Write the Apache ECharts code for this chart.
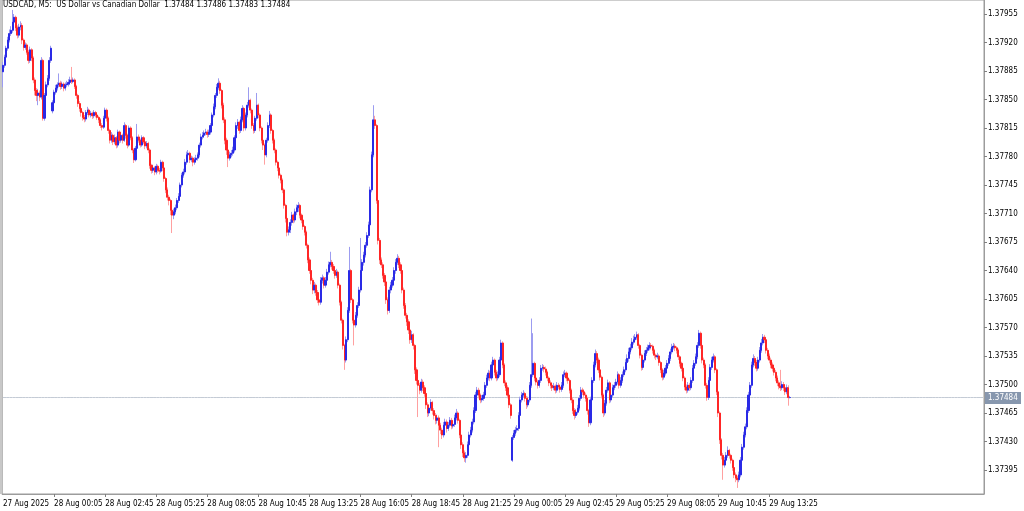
<!DOCTYPE html>
<html>
<head>
<meta charset="utf-8">
<script src="https://cdn.jsdelivr.net/npm/echarts@6/dist/echarts.min.js"></script>
<style>
html,body{margin:0;padding:0;background:#ffffff;}
#chart{width:1024px;height:511px;}
</style>
</head>
<body>
<div id="chart"></div>
<script>
// ---- Header ----
const symbolText = 'USDCAD, M5:';
const descText = 'US Dollar vs Canadian Dollar';

// ---- Time axis labels (one every 32 five-minute bars) ----
const timeLabels = ['27 Aug 2025','28 Aug 00:05','28 Aug 02:45','28 Aug 05:25','28 Aug 08:05','28 Aug 10:45',
  '28 Aug 13:25','28 Aug 16:05','28 Aug 18:45','28 Aug 21:25','29 Aug 00:05','29 Aug 02:45',
  '29 Aug 05:25','29 Aug 08:05','29 Aug 10:45','29 Aug 13:25'];
const barsPerLabel = 32;
const totalSlots = 615; // bar slots across the chart incl. empty right margin

// ---- Price axis tick labels ----
const priceTicks = [1.37395,1.37430,1.37465,1.37500,1.37535,1.37570,1.37605,1.37640,1.37675,
  1.37710,1.37745,1.37780,1.37815,1.37850,1.37885,1.37920,1.37955];
const priceMin = 1.3736553, priceMax = 1.3797219;

// ---- OHLC data (M5 bars) ----
const opens = [
1.37884,1.37892,1.37902,1.37913,1.37923,1.37931,1.37935,1.37945,1.37951,1.37938,
1.37929,1.37939,1.37941,1.37923,1.37914,1.37917,1.37908,1.37898,1.37911,1.37901,
1.37874,1.37861,1.37855,1.37858,1.37853,1.37898,1.37827,1.37855,1.37868,1.37876,
1.37898,1.37836,1.37846,1.37859,1.37864,1.37868,1.37870,1.37866,1.37869,1.37864,
1.37868,1.37869,1.37871,1.37874,1.37872,1.37874,1.37866,1.37855,1.37845,1.37839,
1.37834,1.37828,1.37826,1.37834,1.37837,1.37831,1.37833,1.37830,1.37834,1.37831,
1.37828,1.37825,1.37818,1.37816,1.37827,1.37837,1.37827,1.37812,1.37800,1.37806,
1.37798,1.37803,1.37794,1.37810,1.37800,1.37806,1.37800,1.37818,1.37806,1.37794,
1.37815,1.37803,1.37788,1.37776,1.37790,1.37804,1.37800,1.37794,1.37803,1.37798,
1.37793,1.37796,1.37788,1.37769,1.37763,1.37766,1.37761,1.37768,1.37763,1.37762,
1.37773,1.37766,1.37753,1.37739,1.37730,1.37726,1.37714,1.37708,1.37712,1.37717,
1.37726,1.37731,1.37745,1.37757,1.37761,1.37773,1.37782,1.37784,1.37776,1.37778,
1.37773,1.37776,1.37778,1.37782,1.37794,1.37804,1.37806,1.37809,1.37810,1.37807,
1.37810,1.37818,1.37831,1.37841,1.37855,1.37865,1.37870,1.37861,1.37843,1.37825,
1.37800,1.37788,1.37778,1.37782,1.37784,1.37788,1.37803,1.37818,1.37822,1.37812,
1.37825,1.37839,1.37815,1.37831,1.37843,1.37849,1.37837,1.37818,1.37812,1.37827,
1.37843,1.37831,1.37815,1.37800,1.37794,1.37782,1.37800,1.37818,1.37831,1.37812,
1.37800,1.37788,1.37773,1.37766,1.37757,1.37751,1.37739,1.37720,1.37704,1.37687,
1.37690,1.37699,1.37708,1.37702,1.37712,1.37717,1.37720,1.37708,1.37702,1.37694,
1.37687,1.37671,1.37653,1.37640,1.37628,1.37616,1.37622,1.37613,1.37604,1.37601,
1.37628,1.37631,1.37622,1.37628,1.37638,1.37647,1.37650,1.37645,1.37640,1.37634,
1.37638,1.37622,1.37601,1.37579,1.37548,1.37530,1.37555,1.37591,1.37640,1.37604,
1.37579,1.37573,1.37585,1.37597,1.37616,1.37640,1.37650,1.37659,1.37671,1.37683,
1.37696,1.37739,1.37782,1.37825,1.37818,1.37726,1.37677,1.37653,1.37647,1.37634,
1.37626,1.37604,1.37591,1.37616,1.37622,1.37628,1.37640,1.37650,1.37655,1.37647,
1.37640,1.37616,1.37597,1.37585,1.37577,1.37567,1.37555,1.37561,1.37548,1.37518,
1.37505,1.37499,1.37493,1.37503,1.37496,1.37489,1.37475,1.37465,1.37471,1.37478,
1.37468,1.37462,1.37456,1.37459,1.37450,1.37444,1.37438,1.37450,1.37454,1.37446,
1.37450,1.37456,1.37449,1.37451,1.37459,1.37465,1.37456,1.37438,1.37426,1.37416,
1.37410,1.37413,1.37426,1.37438,1.37444,1.37454,1.37468,1.37487,1.37493,1.37487,
1.37481,1.37483,1.37487,1.37499,1.37508,1.37514,1.37508,1.37524,1.37530,1.37515,
1.37508,1.37512,1.37530,1.37551,1.37524,1.37502,1.37496,1.37487,1.37475,1.37407,
1.37435,1.37440,1.37444,1.37446,1.37462,1.37481,1.37487,1.37489,1.37483,1.37475,
1.37481,1.37499,1.37512,1.37526,1.37508,1.37503,1.37499,1.37505,1.37520,1.37521,
1.37519,1.37515,1.37508,1.37502,1.37499,1.37496,1.37498,1.37493,1.37499,1.37497,
1.37494,1.37499,1.37512,1.37514,1.37508,1.37505,1.37493,1.37481,1.37468,1.37462,
1.37466,1.37471,1.37483,1.37493,1.37491,1.37487,1.37483,1.37468,1.37453,1.37481,
1.37505,1.37524,1.37538,1.37530,1.37518,1.37509,1.37487,1.37465,1.37477,1.37493,
1.37502,1.37481,1.37487,1.37496,1.37499,1.37503,1.37512,1.37499,1.37505,1.37512,
1.37518,1.37527,1.37532,1.37540,1.37545,1.37552,1.37555,1.37558,1.37561,1.37548,
1.37536,1.37521,1.37530,1.37538,1.37542,1.37545,1.37548,1.37547,1.37542,1.37536,
1.37534,1.37535,1.37527,1.37518,1.37509,1.37514,1.37520,1.37526,1.37532,1.37540,
1.37546,1.37547,1.37545,1.37542,1.37534,1.37526,1.37520,1.37508,1.37497,1.37493,
1.37499,1.37496,1.37505,1.37520,1.37526,1.37534,1.37548,1.37563,1.37548,1.37530,
1.37524,1.37499,1.37484,1.37505,1.37521,1.37530,1.37534,1.37518,1.37491,1.37465,
1.37432,1.37413,1.37401,1.37407,1.37413,1.37419,1.37413,1.37407,1.37398,1.37389,
1.37385,1.37383,1.37389,1.37407,1.37423,1.37438,1.37448,1.37468,1.37487,1.37499,
1.37524,1.37532,1.37527,1.37520,1.37530,1.37542,1.37551,1.37558,1.37555,1.37542,
1.37535,1.37530,1.37524,1.37520,1.37515,1.37508,1.37502,1.37498,1.37496,1.37500,
1.37496,1.37491,1.37496,1.37484];

const closes = [
1.37892,1.37902,1.37913,1.37923,1.37931,1.37935,1.37945,1.37951,1.37938,1.37929,
1.37939,1.37941,1.37923,1.37914,1.37917,1.37908,1.37898,1.37911,1.37901,1.37874,
1.37861,1.37855,1.37858,1.37853,1.37898,1.37827,1.37855,1.37868,1.37876,1.37898,
1.37913,1.37846,1.37859,1.37864,1.37868,1.37870,1.37866,1.37869,1.37864,1.37868,
1.37869,1.37871,1.37874,1.37872,1.37874,1.37866,1.37855,1.37845,1.37839,1.37834,
1.37828,1.37826,1.37834,1.37837,1.37831,1.37833,1.37830,1.37834,1.37831,1.37828,
1.37825,1.37818,1.37816,1.37827,1.37837,1.37827,1.37812,1.37800,1.37806,1.37798,
1.37803,1.37794,1.37810,1.37800,1.37806,1.37800,1.37818,1.37806,1.37794,1.37815,
1.37803,1.37788,1.37776,1.37790,1.37804,1.37800,1.37794,1.37803,1.37798,1.37793,
1.37796,1.37788,1.37769,1.37763,1.37766,1.37761,1.37768,1.37763,1.37762,1.37773,
1.37766,1.37753,1.37739,1.37730,1.37726,1.37714,1.37708,1.37712,1.37717,1.37726,
1.37731,1.37745,1.37757,1.37761,1.37773,1.37782,1.37784,1.37776,1.37778,1.37773,
1.37776,1.37778,1.37782,1.37794,1.37804,1.37806,1.37809,1.37810,1.37807,1.37810,
1.37818,1.37831,1.37841,1.37855,1.37865,1.37870,1.37861,1.37843,1.37825,1.37800,
1.37788,1.37778,1.37782,1.37784,1.37788,1.37803,1.37818,1.37822,1.37812,1.37825,
1.37839,1.37815,1.37831,1.37843,1.37849,1.37837,1.37818,1.37812,1.37827,1.37843,
1.37831,1.37815,1.37800,1.37794,1.37782,1.37800,1.37818,1.37831,1.37812,1.37800,
1.37788,1.37773,1.37766,1.37757,1.37751,1.37739,1.37720,1.37704,1.37687,1.37690,
1.37699,1.37708,1.37702,1.37712,1.37717,1.37720,1.37708,1.37702,1.37694,1.37687,
1.37671,1.37653,1.37640,1.37628,1.37616,1.37622,1.37613,1.37604,1.37601,1.37628,
1.37631,1.37622,1.37628,1.37638,1.37647,1.37650,1.37645,1.37640,1.37634,1.37638,
1.37622,1.37601,1.37579,1.37548,1.37530,1.37555,1.37591,1.37640,1.37604,1.37579,
1.37573,1.37585,1.37597,1.37616,1.37640,1.37650,1.37659,1.37671,1.37683,1.37696,
1.37739,1.37782,1.37825,1.37818,1.37726,1.37677,1.37653,1.37647,1.37634,1.37626,
1.37604,1.37591,1.37616,1.37622,1.37628,1.37640,1.37650,1.37655,1.37647,1.37640,
1.37616,1.37597,1.37585,1.37577,1.37567,1.37555,1.37561,1.37548,1.37518,1.37505,
1.37499,1.37493,1.37503,1.37496,1.37489,1.37475,1.37465,1.37471,1.37478,1.37468,
1.37462,1.37456,1.37459,1.37450,1.37444,1.37438,1.37450,1.37454,1.37446,1.37450,
1.37456,1.37449,1.37451,1.37459,1.37465,1.37456,1.37438,1.37426,1.37416,1.37410,
1.37413,1.37426,1.37438,1.37444,1.37454,1.37468,1.37487,1.37493,1.37487,1.37481,
1.37483,1.37487,1.37499,1.37508,1.37514,1.37508,1.37524,1.37530,1.37515,1.37508,
1.37512,1.37530,1.37551,1.37524,1.37502,1.37496,1.37487,1.37475,1.37462,1.37435,
1.37440,1.37444,1.37446,1.37462,1.37481,1.37487,1.37489,1.37483,1.37475,1.37481,
1.37499,1.37512,1.37526,1.37508,1.37503,1.37499,1.37505,1.37520,1.37521,1.37519,
1.37515,1.37508,1.37502,1.37499,1.37496,1.37498,1.37493,1.37499,1.37497,1.37494,
1.37499,1.37512,1.37514,1.37508,1.37505,1.37493,1.37481,1.37468,1.37462,1.37466,
1.37471,1.37483,1.37493,1.37491,1.37487,1.37483,1.37468,1.37453,1.37481,1.37505,
1.37524,1.37538,1.37530,1.37518,1.37509,1.37487,1.37465,1.37477,1.37493,1.37502,
1.37481,1.37487,1.37496,1.37499,1.37503,1.37512,1.37499,1.37505,1.37512,1.37518,
1.37527,1.37532,1.37540,1.37545,1.37552,1.37555,1.37558,1.37561,1.37548,1.37536,
1.37521,1.37530,1.37538,1.37542,1.37545,1.37548,1.37547,1.37542,1.37536,1.37534,
1.37535,1.37527,1.37518,1.37509,1.37514,1.37520,1.37526,1.37532,1.37540,1.37546,
1.37547,1.37545,1.37542,1.37534,1.37526,1.37520,1.37508,1.37497,1.37493,1.37499,
1.37496,1.37505,1.37520,1.37526,1.37534,1.37548,1.37563,1.37548,1.37530,1.37524,
1.37499,1.37484,1.37505,1.37521,1.37530,1.37534,1.37518,1.37491,1.37465,1.37432,
1.37413,1.37401,1.37407,1.37413,1.37419,1.37413,1.37407,1.37398,1.37389,1.37385,
1.37383,1.37389,1.37407,1.37423,1.37438,1.37448,1.37468,1.37487,1.37499,1.37524,
1.37532,1.37527,1.37520,1.37530,1.37542,1.37551,1.37558,1.37555,1.37542,1.37535,
1.37530,1.37524,1.37520,1.37515,1.37508,1.37502,1.37498,1.37496,1.37500,1.37496,
1.37491,1.37496,1.37484,1.37484];

const highs = [
1.37896,1.37905,1.37916,1.37927,1.37936,1.37940,1.37960,1.37955,1.37953,1.37941,
1.37943,1.37946,1.37944,1.37925,1.37920,1.37919,1.37911,1.37915,1.37913,1.37903,
1.37877,1.37864,1.37863,1.37861,1.37902,1.37900,1.37858,1.37872,1.37880,1.37902,
1.37916,1.37849,1.37862,1.37868,1.37871,1.37882,1.37873,1.37872,1.37871,1.37871,
1.37873,1.37875,1.37878,1.37890,1.37877,1.37876,1.37868,1.37857,1.37848,1.37841,
1.37836,1.37831,1.37837,1.37841,1.37839,1.37836,1.37835,1.37837,1.37836,1.37833,
1.37830,1.37827,1.37821,1.37830,1.37840,1.37839,1.37829,1.37814,1.37810,1.37808,
1.37807,1.37805,1.37813,1.37812,1.37809,1.37808,1.37822,1.37820,1.37808,1.37818,
1.37817,1.37805,1.37790,1.37793,1.37820,1.37807,1.37802,1.37806,1.37805,1.37800,
1.37799,1.37798,1.37790,1.37771,1.37770,1.37768,1.37771,1.37770,1.37766,1.37776,
1.37775,1.37768,1.37755,1.37742,1.37733,1.37728,1.37716,1.37716,1.37721,1.37729,
1.37735,1.37748,1.37760,1.37765,1.37777,1.37786,1.37788,1.37786,1.37781,1.37780,
1.37779,1.37782,1.37785,1.37797,1.37808,1.37810,1.37812,1.37814,1.37813,1.37813,
1.37821,1.37834,1.37845,1.37858,1.37869,1.37876,1.37873,1.37863,1.37846,1.37828,
1.37803,1.37791,1.37786,1.37788,1.37792,1.37806,1.37822,1.37826,1.37824,1.37829,
1.37843,1.37841,1.37834,1.37847,1.37865,1.37851,1.37839,1.37821,1.37830,1.37858,
1.37845,1.37833,1.37817,1.37803,1.37796,1.37803,1.37822,1.37836,1.37833,1.37814,
1.37802,1.37790,1.37775,1.37768,1.37759,1.37753,1.37741,1.37722,1.37706,1.37694,
1.37703,1.37712,1.37710,1.37716,1.37721,1.37724,1.37722,1.37710,1.37704,1.37696,
1.37689,1.37673,1.37656,1.37642,1.37631,1.37626,1.37624,1.37616,1.37607,1.37632,
1.37635,1.37633,1.37632,1.37642,1.37651,1.37663,1.37653,1.37648,1.37642,1.37642,
1.37640,1.37624,1.37603,1.37581,1.37550,1.37559,1.37595,1.37669,1.37642,1.37606,
1.37582,1.37589,1.37601,1.37620,1.37680,1.37654,1.37663,1.37675,1.37687,1.37700,
1.37743,1.37786,1.37843,1.37830,1.37820,1.37728,1.37680,1.37656,1.37650,1.37637,
1.37628,1.37607,1.37620,1.37626,1.37632,1.37644,1.37654,1.37660,1.37658,1.37650,
1.37642,1.37619,1.37600,1.37588,1.37580,1.37570,1.37566,1.37563,1.37550,1.37521,
1.37508,1.37502,1.37507,1.37506,1.37499,1.37491,1.37478,1.37475,1.37482,1.37480,
1.37471,1.37465,1.37463,1.37462,1.37453,1.37447,1.37454,1.37458,1.37457,1.37454,
1.37460,1.37459,1.37455,1.37463,1.37470,1.37467,1.37458,1.37441,1.37429,1.37419,
1.37417,1.37430,1.37442,1.37448,1.37458,1.37472,1.37491,1.37497,1.37496,1.37489,
1.37487,1.37491,1.37503,1.37512,1.37518,1.37517,1.37528,1.37534,1.37532,1.37518,
1.37516,1.37534,1.37555,1.37553,1.37526,1.37505,1.37499,1.37490,1.37477,1.37438,
1.37444,1.37448,1.37450,1.37466,1.37485,1.37491,1.37493,1.37491,1.37486,1.37485,
1.37503,1.37581,1.37563,1.37528,1.37511,1.37506,1.37509,1.37524,1.37525,1.37524,
1.37522,1.37517,1.37510,1.37505,1.37502,1.37502,1.37500,1.37503,1.37502,1.37500,
1.37503,1.37516,1.37518,1.37516,1.37511,1.37507,1.37495,1.37484,1.37471,1.37470,
1.37475,1.37487,1.37497,1.37496,1.37494,1.37490,1.37485,1.37470,1.37485,1.37509,
1.37528,1.37543,1.37541,1.37533,1.37521,1.37511,1.37489,1.37481,1.37497,1.37506,
1.37504,1.37491,1.37500,1.37503,1.37507,1.37516,1.37514,1.37509,1.37516,1.37522,
1.37531,1.37537,1.37545,1.37550,1.37557,1.37560,1.37562,1.37565,1.37563,1.37550,
1.37538,1.37534,1.37542,1.37546,1.37549,1.37552,1.37551,1.37549,1.37544,1.37538,
1.37539,1.37537,1.37529,1.37520,1.37518,1.37524,1.37530,1.37536,1.37544,1.37550,
1.37551,1.37550,1.37547,1.37544,1.37536,1.37528,1.37522,1.37510,1.37500,1.37503,
1.37502,1.37509,1.37524,1.37530,1.37538,1.37552,1.37567,1.37565,1.37550,1.37533,
1.37526,1.37502,1.37509,1.37525,1.37534,1.37538,1.37536,1.37520,1.37493,1.37467,
1.37434,1.37416,1.37411,1.37417,1.37424,1.37421,1.37415,1.37409,1.37400,1.37392,
1.37388,1.37393,1.37411,1.37427,1.37442,1.37452,1.37472,1.37491,1.37503,1.37528,
1.37537,1.37535,1.37530,1.37534,1.37546,1.37556,1.37562,1.37561,1.37557,1.37545,
1.37538,1.37533,1.37527,1.37523,1.37518,1.37511,1.37505,1.37518,1.37504,1.37503,
1.37498,1.37500,1.37499,1.37486];

const lows = [
1.37865,1.37889,1.37899,1.37910,1.37920,1.37928,1.37932,1.37941,1.37934,1.37925,
1.37926,1.37935,1.37918,1.37910,1.37911,1.37905,1.37894,1.37895,1.37897,1.37870,
1.37855,1.37848,1.37843,1.37848,1.37850,1.37824,1.37824,1.37852,1.37865,1.37873,
1.37895,1.37833,1.37843,1.37856,1.37861,1.37865,1.37862,1.37863,1.37860,1.37861,
1.37865,1.37866,1.37868,1.37869,1.37870,1.37863,1.37851,1.37841,1.37835,1.37829,
1.37824,1.37822,1.37823,1.37831,1.37828,1.37828,1.37826,1.37827,1.37828,1.37825,
1.37821,1.37815,1.37812,1.37814,1.37825,1.37823,1.37808,1.37796,1.37797,1.37794,
1.37795,1.37790,1.37791,1.37796,1.37797,1.37796,1.37798,1.37802,1.37790,1.37792,
1.37800,1.37784,1.37772,1.37774,1.37788,1.37797,1.37791,1.37792,1.37795,1.37789,
1.37790,1.37784,1.37765,1.37759,1.37760,1.37757,1.37758,1.37760,1.37758,1.37760,
1.37762,1.37749,1.37735,1.37726,1.37720,1.37708,1.37686,1.37703,1.37709,1.37714,
1.37723,1.37729,1.37742,1.37754,1.37758,1.37770,1.37779,1.37772,1.37773,1.37768,
1.37770,1.37773,1.37775,1.37779,1.37791,1.37801,1.37803,1.37806,1.37803,1.37804,
1.37807,1.37815,1.37828,1.37838,1.37852,1.37862,1.37857,1.37839,1.37821,1.37795,
1.37782,1.37767,1.37775,1.37779,1.37781,1.37785,1.37800,1.37814,1.37808,1.37809,
1.37822,1.37811,1.37812,1.37828,1.37840,1.37833,1.37814,1.37808,1.37809,1.37824,
1.37827,1.37811,1.37796,1.37788,1.37770,1.37779,1.37797,1.37815,1.37808,1.37796,
1.37784,1.37769,1.37762,1.37753,1.37747,1.37735,1.37716,1.37699,1.37682,1.37683,
1.37686,1.37695,1.37698,1.37699,1.37708,1.37712,1.37704,1.37698,1.37690,1.37683,
1.37667,1.37649,1.37636,1.37623,1.37611,1.37612,1.37609,1.37600,1.37597,1.37598,
1.37624,1.37618,1.37619,1.37625,1.37635,1.37644,1.37641,1.37636,1.37630,1.37631,
1.37618,1.37597,1.37575,1.37543,1.37518,1.37527,1.37552,1.37588,1.37600,1.37575,
1.37548,1.37570,1.37582,1.37594,1.37613,1.37636,1.37646,1.37656,1.37668,1.37680,
1.37693,1.37736,1.37779,1.37814,1.37722,1.37672,1.37648,1.37643,1.37630,1.37621,
1.37599,1.37586,1.37588,1.37612,1.37619,1.37625,1.37636,1.37647,1.37643,1.37636,
1.37612,1.37593,1.37581,1.37572,1.37562,1.37550,1.37551,1.37543,1.37513,1.37500,
1.37460,1.37488,1.37490,1.37492,1.37485,1.37470,1.37460,1.37461,1.37468,1.37463,
1.37457,1.37451,1.37452,1.37423,1.37439,1.37433,1.37435,1.37446,1.37441,1.37443,
1.37447,1.37445,1.37446,1.37448,1.37456,1.37452,1.37434,1.37421,1.37411,1.37405,
1.37404,1.37410,1.37423,1.37435,1.37441,1.37451,1.37465,1.37483,1.37483,1.37477,
1.37478,1.37480,1.37484,1.37496,1.37505,1.37504,1.37505,1.37521,1.37511,1.37504,
1.37505,1.37509,1.37527,1.37520,1.37498,1.37492,1.37483,1.37471,1.37458,1.37405,
1.37432,1.37437,1.37441,1.37443,1.37459,1.37478,1.37484,1.37479,1.37470,1.37472,
1.37478,1.37496,1.37509,1.37504,1.37499,1.37495,1.37496,1.37502,1.37517,1.37515,
1.37511,1.37504,1.37498,1.37495,1.37492,1.37493,1.37489,1.37490,1.37494,1.37490,
1.37491,1.37496,1.37509,1.37504,1.37501,1.37489,1.37477,1.37464,1.37457,1.37459,
1.37463,1.37468,1.37480,1.37487,1.37483,1.37479,1.37463,1.37448,1.37450,1.37478,
1.37502,1.37521,1.37526,1.37514,1.37505,1.37483,1.37460,1.37462,1.37474,1.37490,
1.37477,1.37478,1.37484,1.37493,1.37496,1.37500,1.37495,1.37496,1.37502,1.37509,
1.37515,1.37524,1.37528,1.37537,1.37542,1.37549,1.37552,1.37555,1.37544,1.37532,
1.37517,1.37518,1.37527,1.37535,1.37539,1.37542,1.37543,1.37538,1.37532,1.37530,
1.37531,1.37523,1.37514,1.37505,1.37506,1.37511,1.37517,1.37523,1.37529,1.37537,
1.37543,1.37541,1.37538,1.37530,1.37522,1.37516,1.37504,1.37493,1.37489,1.37490,
1.37492,1.37493,1.37502,1.37517,1.37523,1.37531,1.37545,1.37544,1.37526,1.37520,
1.37495,1.37480,1.37481,1.37502,1.37518,1.37527,1.37514,1.37487,1.37460,1.37427,
1.37408,1.37383,1.37398,1.37404,1.37410,1.37409,1.37403,1.37394,1.37385,1.37380,
1.37373,1.37380,1.37386,1.37404,1.37420,1.37435,1.37445,1.37465,1.37484,1.37496,
1.37521,1.37523,1.37516,1.37517,1.37527,1.37539,1.37548,1.37551,1.37538,1.37531,
1.37526,1.37520,1.37516,1.37511,1.37504,1.37498,1.37494,1.37492,1.37493,1.37492,
1.37487,1.37488,1.37474,1.37483];

if (opens.length !== closes.length || highs.length !== closes.length || lows.length !== closes.length) {
  throw new Error('length mismatch ' + opens.length + ' ' + closes.length + ' ' + highs.length + ' ' + lows.length);
}

// ---- Build chart ----
const FONT = "'DejaVu Sans Condensed','DejaVu Sans','Liberation Sans',sans-serif";
const fmt = v => v.toFixed(5);
const last = closes.length - 1;
const lastPrice = closes[last];
const categories = Array.from({length: totalSlots}, (_, i) => String(i));
const wickData = closes.map((c, i) => [opens[i], c, lows[i], highs[i]]);
const bodyData = closes.map((c, i) => [opens[i], c, Math.min(opens[i], c), Math.max(opens[i], c)]);
const priceLineData = categories.map(() => lastPrice);
const isLabelSlot = i => i % barsPerLabel === 0 && (i / barsPerLabel) < timeLabels.length;

const chart = echarts.init(document.getElementById('chart'), null, {renderer: 'canvas'});
chart.setOption({
  animation: false,
  backgroundColor: '#ffffff',
  title: {
    text: symbolText + '  ' + descText + '  ' + fmt(opens[last]) + ' ' + fmt(highs[last]) + ' ' + fmt(lows[last]) + ' ' + fmt(closes[last]),
    left: 3, top: 1, padding: 0,
    textStyle: {fontSize: 8, fontWeight: 'normal', color: '#000000', fontFamily: FONT}
  },
  grid: {left: 0, right: 40, top: 0, bottom: 17, show: true, borderColor: '#9c9c9c', borderWidth: 1, backgroundColor: 'transparent'},
  xAxis: {
    type: 'category', data: categories, boundaryGap: true,
    axisLine: {show: true, lineStyle: {color: '#9c9c9c', width: 1}},
    axisTick: {show: true, alignWithLabel: true, length: 3, interval: (i) => isLabelSlot(i) && i > 0, lineStyle: {color: '#808080'}},
    axisLabel: {show: true, interval: (i) => isLabelSlot(i), formatter: (v, i) => timeLabels[i / barsPerLabel] || '',
      align: 'left', margin: 6, fontSize: 8, color: '#000000', fontFamily: FONT},
    splitLine: {show: false}
  },
  yAxis: {
    type: 'value', position: 'right', min: priceMin, max: priceMax,
    axisLine: {show: true, lineStyle: {color: '#9c9c9c', width: 1}},
    axisTick: {show: true, customValues: priceTicks, length: 3, lineStyle: {color: '#808080'}},
    axisLabel: {show: true, customValues: priceTicks, formatter: v => fmt(v), margin: 4, fontSize: 8, color: '#000000', fontFamily: FONT},
    splitLine: {show: false}
  },
  series: [
    {
      name: 'priceLine', type: 'line', data: priceLineData, symbol: 'none', silent: true, z: 1,
      lineStyle: {color: '#c4cbd5', width: 1, type: 'solid'}
    },
    {
      name: 'wick', type: 'candlestick', data: wickData, barWidth: 1, silent: true, z: 2,
      itemStyle: {color: '#9c9cf0', color0: '#ffa0a0', borderColor: '#9c9cf0', borderColor0: '#ffa0a0', borderWidth: 1}
    },
    {
      name: 'body', type: 'candlestick', data: bodyData, barWidth: 1.6, silent: true, z: 3,
      itemStyle: {color: '#2a2ae6', color0: '#ff2626', borderColor: '#2a2ae6', borderColor0: '#ff2626', borderWidth: 1}
    }
  ]
});

// current price tag on the price axis, positioned through the axis scale
const tagY = chart.convertToPixel({yAxisIndex: 0}, lastPrice);
const axisX = chart.convertToPixel({xAxisIndex: 0}, categories[totalSlots - 1]) + 0.8;
chart.setOption({
  graphic: [
    {type: 'rect', silent: true, z: 100, shape: {x: 0, y: 0, width: 2, height: 494}, style: {fill: '#c8c8c8'}},
    {type: 'rect', silent: true, z: 100, shape: {x: axisX + 1, y: Math.round(tagY) - 6, width: 36, height: 12}, style: {fill: '#8797ae'}},
    {type: 'text', silent: true, z: 101, x: axisX + 4, y: Math.round(tagY),
      style: {text: fmt(lastPrice), fill: '#ffffff', font: '8px ' + FONT, textVerticalAlign: 'middle', verticalAlign: 'middle'}}
  ]
});
</script>
</body>
</html>
